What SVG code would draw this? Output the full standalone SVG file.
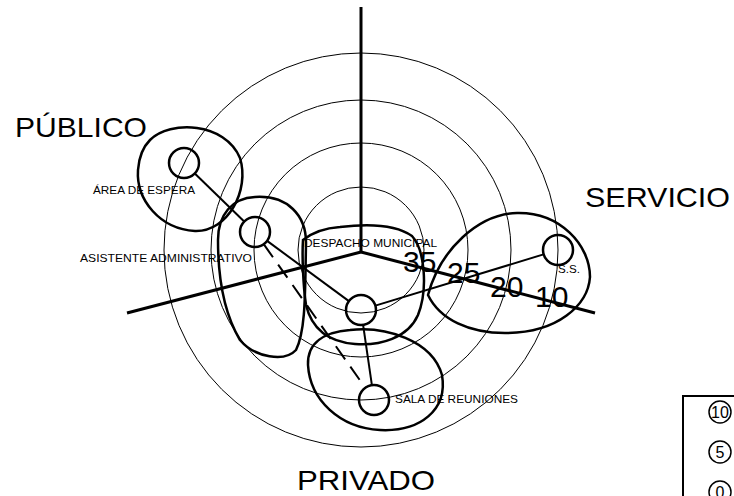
<svg xmlns="http://www.w3.org/2000/svg" width="734" height="496" viewBox="0 0 734 496">
<style>
.ring{fill:none;stroke:#000;stroke-width:1}
.axis{fill:none;stroke:#000;stroke-width:3}
.zone{fill:none;stroke:#000;stroke-width:2.5}
.node{fill:none;stroke:#000;stroke-width:2.5}
.link{fill:none;stroke:#000;stroke-width:2}
.dash{stroke-dasharray:16 9}
text{font-family:"Liberation Sans",Arial,sans-serif;fill:#000}
.big{font-size:28px}
.num{font-size:30px}
.small{font-size:11px}
.leg{font-size:16px}
</style>
<rect width="734" height="496" fill="#fff"/>
<g id="rings">
<circle class="ring" cx="361" cy="250" r="197"/>
<circle class="ring" cx="361" cy="250" r="150"/>
<circle class="ring" cx="361" cy="250" r="107"/>
<circle class="ring" cx="361" cy="250" r="63"/>
</g>
<g id="axes">
<line class="axis" x1="361" y1="7" x2="361" y2="252"/>
<line class="axis" x1="361" y1="252" x2="127" y2="313"/>
<line class="axis" x1="361" y1="252" x2="595" y2="313"/>
</g>
<g id="zones">
<path id="zone-publico" class="zone" d="M150,140 C170,120 225,122 240,158 C250,190 228,232 195,231 C160,229 136,200 138,170 C139,156 143,147 150,140 Z"/>
<path id="zone-asistente" class="zone" d="M255,197 C287,195 307,215 306,245 C305,290 306,330 296,350 C285,362 255,358 240,340 C225,315 218,280 218,240 C218,215 232,198 255,197 Z"/>
<path id="zone-despacho" class="zone" d="M303,240 C313,232 325,228 340,227 C365,224 395,224 412,236 C425,250 428,290 418,315 C408,338 380,346 355,344 C330,342 312,330 306,305 C303,285 302,255 303,240 Z"/>
<path id="zone-privado" class="zone" d="M350,330 C385,326 432,340 442,375 C448,410 420,432 380,430 C340,428 310,400 308,365 C307,342 325,332 350,330 Z"/>
<path id="zone-servicio" class="zone" d="M428,295 C440,250 478,214 517,213 C560,212 590,245 590,277 C588,305 558,333 505,333 C470,333 440,320 428,295 Z"/>
</g>
<g id="connectors">
<line class="link" x1="194.8" y1="173.5" x2="244.2" y2="221.5"/>
<line class="link" x1="267.1" y1="240.9" x2="348.9" y2="301.1"/>
<line class="link dash" x1="263.7" y1="244.2" x2="365.3" y2="387.8"/>
<line class="link" x1="363.1" y1="324.9" x2="371.9" y2="385.1"/>
<line class="link" x1="375.4" y1="305.6" x2="543.6" y2="254.4"/>
</g>
<g id="node-area-espera">
<circle class="node" cx="184" cy="163" r="15"/>
<text class="small" x="93" y="194" textLength="102" lengthAdjust="spacingAndGlyphs">ÁREA DE ESPERA</text>
</g>
<g id="node-asistente">
<circle class="node" cx="255" cy="232" r="15"/>
<text class="small" x="80" y="262" textLength="172" lengthAdjust="spacingAndGlyphs">ASISTENTE ADMINISTRATIVO</text>
</g>
<g id="node-despacho">
<circle class="node" cx="361" cy="310" r="15"/>
<text class="small" x="304" y="247" textLength="133" lengthAdjust="spacingAndGlyphs">DESPACHO MUNICIPAL</text>
</g>
<g id="node-sala">
<circle class="node" cx="374" cy="400" r="15"/>
<text class="small" x="395" y="403" textLength="123" lengthAdjust="spacingAndGlyphs">SALA DE REUNIONES</text>
</g>
<g id="node-ss">
<circle class="node" cx="558" cy="250" r="15"/>
<text class="small" x="558" y="273" textLength="22" lengthAdjust="spacingAndGlyphs">S.S.</text>
</g>
<g id="scale-labels">
<text class="num" x="403" y="272">35</text>
<text class="num" x="447" y="283">25</text>
<text class="num" x="490" y="297">20</text>
<text class="num" x="535" y="307">10</text>
</g>
<g id="zone-labels">
<text class="big" x="15" y="137" textLength="132" lengthAdjust="spacingAndGlyphs">PÚBLICO</text>
<text class="big" x="585" y="207" textLength="145" lengthAdjust="spacingAndGlyphs">SERVICIO</text>
<text class="big" x="297" y="490" textLength="138" lengthAdjust="spacingAndGlyphs">PRIVADO</text>
</g>
<g id="legend">
<rect x="683" y="396" width="80" height="120" fill="none" stroke="#000" stroke-width="2"/>
<circle cx="720" cy="412" r="11" fill="none" stroke="#000" stroke-width="1.5"/>
<text class="leg" x="720" y="418" text-anchor="middle">10</text>
<circle cx="720" cy="452" r="11" fill="none" stroke="#000" stroke-width="1.5"/>
<text class="leg" x="720" y="458" text-anchor="middle">5</text>
<circle cx="720" cy="492" r="11" fill="none" stroke="#000" stroke-width="1.5"/>
<text class="leg" x="720" y="498" text-anchor="middle">0</text>
</g>
</svg>
